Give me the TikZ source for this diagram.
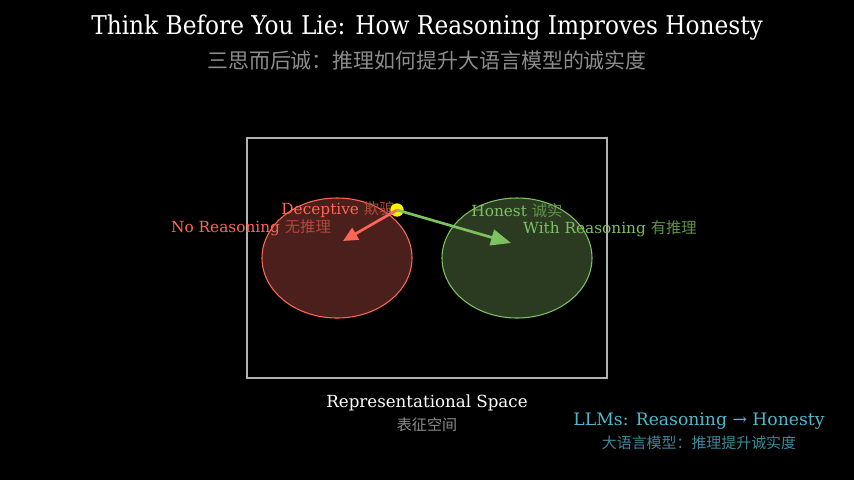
\documentclass[tikz,border=0pt]{standalone}
\usepackage{fontspec}
\setmainfont{DejaVu Serif}
\newfontfamily\cjk{Noto Sans CJK SC}
\newfontfamily\condensed{DejaVu Serif Condensed}
\usetikzlibrary{arrows.meta}
\definecolor{decred}{HTML}{FF6655}
\definecolor{decfill}{HTML}{4A1F1C}
\definecolor{hongreen}{HTML}{7DC160}
\definecolor{honfill}{HTML}{2A3B22}
\definecolor{cyanlbl}{HTML}{4FB8D0}
\definecolor{cyandim}{HTML}{3A8898}
\tikzset{
	px/.style={x=0.75pt, y=-0.75pt},
	lbl/.style={inner sep=0pt, font=\fontsize{11.5}{13}\selectfont},
}

\begin{document}
\begin{tikzpicture}[px]
			%%%%% START %%%%%
			
			\fill[black] (0, 0) rectangle (854, 480);
			\useasboundingbox (0, 0) rectangle (854, 480);
			
			\node[inner sep=0pt, text=white, font=\condensed\fontsize{19.4}{22}\selectfont] (title) at (427, 28) {Think Before You Lie: How Reasoning Improves Honesty};
			\node[inner sep=0pt, text=black!45!white, font=\cjk\fontsize{15.7}{18}\selectfont] (subtitle) at (427, 60) {三思而后诚：推理如何提升大语言模型的诚实度};
			
			\draw[line width=1.1pt, color=black!30!white] (247, 138) rectangle (607, 378);
			
			\draw[line width=0.8pt, draw=decred, fill=decfill] (337, 258) ellipse [x radius=75, y radius=60];
			\draw[line width=0.8pt, draw=hongreen, fill=honfill] (517, 258) ellipse [x radius=75, y radius=60];
			
			\node[lbl, text=decred] (deceptive) at (338, 210) {Deceptive {\cjk\color{decred!70!black}欺骗}};
			\node[lbl, text=decred] (noreason) at (251, 228) {No Reasoning {\cjk\color{decred!70!black}无推理}};
			\node[lbl, text=hongreen] (honest) at (517, 211) {Honest {\cjk\color{hongreen!75!black}诚实}};
			\node[lbl, text=hongreen] (withreason) at (610, 229) {With Reasoning {\cjk\color{hongreen!75!black}有推理}};
			
			\coordinate (dectip) at (343, 241);
			\coordinate (hontip) at (511, 243);
			\node[circle, fill=yellow, inner sep=0pt, minimum size=10pt] (start) at (397, 210) {};
			\draw[line width=2pt, color=decred, -{Triangle[length=11pt, width=10pt]}] (start.center) -- (dectip);
			\draw[line width=2pt, color=hongreen, -{Triangle[length=15pt, width=12pt]}] (start.center) -- (hontip);
			
			\node[inner sep=0pt, text=white, font=\fontsize{12.5}{14}\selectfont] (space) at (427, 403) {Representational Space};
			\node[inner sep=0pt, text=black!45!white, font=\cjk\fontsize{11.3}{13}\selectfont] (spacecn) at (427, 425) {表征空间};
			
			\node[inner sep=0pt, text=cyanlbl, font=\fontsize{12.9}{15}\selectfont] (llms) at (699, 421) {LLMs: Reasoning → Honesty};
			\node[inner sep=0pt, text=cyandim, font=\cjk\fontsize{11.2}{13}\selectfont] (llmscn) at (699, 443) {大语言模型：推理提升诚实度};
			
			%%%%% END %%%%%
\end{tikzpicture}
\end{document}
